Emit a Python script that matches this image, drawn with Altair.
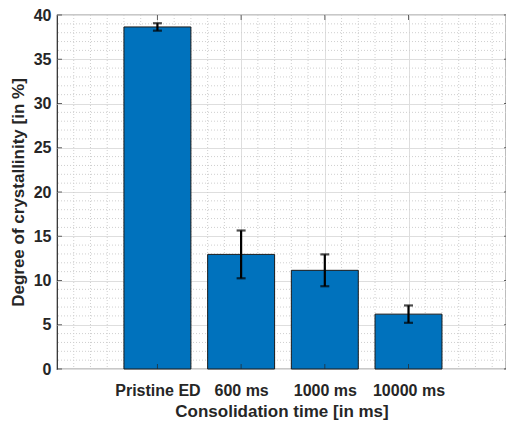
import json
import altair as alt
import pandas as pd

# ---- data ----
categories = ["Pristine ED", "600 ms", "1000 ms", "10000 ms"]
crystallinity = [38.65, 12.95, 11.15, 6.2]
error = [0.42, 2.7, 1.8, 0.98]

y_major = [0, 5, 10, 15, 20, 25, 30, 35, 40]
y_minor = [v for v in range(1, 40) if v % 5 != 0]
x_major = [1, 2, 3, 4]
x_minor = [round(0.2 * k, 1) for k in range(0, 26) if k % 5 != 0 or k in (0, 25)]

W, H = 449, 354
FONT = "Liberation Sans"
INK = "#262626"

pos = [i + 1 for i in range(len(categories))]
df = pd.DataFrame({
    "cat": categories,
    "x": pos,
    "x0": [p - 0.4 for p in pos],
    "x1": [p + 0.4 for p in pos],
    "val": crystallinity,
    "lo": [v - e for v, e in zip(crystallinity, error)],
    "hi": [v + e for v, e in zip(crystallinity, error)],
})

xscale = alt.Scale(domain=[-0.2, 5.165], nice=False, zero=False)
yscale = alt.Scale(domain=[0, 40], nice=False, zero=False)

label_expr = json.dumps(categories) + "[datum.value - 1]"

xaxis = alt.Axis(
    values=x_major, labelExpr=label_expr, title="Consolidation time [in ms]",
    grid=True, gridColor="#dedede", gridWidth=1, ticks=False, domain=False,
    labelFont=FONT, labelFontSize=16, labelFontWeight="bold", labelColor=INK,
    labelPadding=13, labelAngle=0,
    titleFont=FONT, titleFontSize=17, titleFontWeight="bold", titleColor=INK,
    titlePadding=5,
)
yaxis = alt.Axis(
    values=y_major, title="Degree of crystallinity [in %]",
    grid=True, gridColor="#dedede", gridWidth=1, ticks=False, domain=False,
    labelFont=FONT, labelFontSize=16, labelFontWeight="bold", labelColor=INK,
    labelPadding=6,
    titleFont=FONT, titleFontSize=17, titleFontWeight="bold", titleColor=INK,
    titlePadding=6,
)


def X(field):
    return alt.X(field, scale=xscale, axis=xaxis)


def Y(field):
    return alt.Y(field, scale=yscale, axis=yaxis)


minor_y = alt.Chart(pd.DataFrame({"y": y_minor})).mark_rule(
    color="#cfcfcf", strokeDash=[1, 2], strokeWidth=1
).encode(y=Y("y:Q"))

minor_x = alt.Chart(pd.DataFrame({"x": x_minor})).mark_rule(
    color="#cfcfcf", strokeDash=[1, 2], strokeWidth=1
).encode(x=X("x:Q"))

bars = alt.Chart(df).mark_bar(
    color="#0072BD", stroke="#1a1a1a", strokeWidth=1
).encode(
    x=X("x0:Q"),
    x2="x1:Q",
    y=Y("val:Q"),
    y2=alt.datum(0),
)

err = alt.Chart(df).mark_rule(color="black", strokeWidth=2.2).encode(
    x=X("x:Q"), y=Y("lo:Q"), y2="hi:Q",
)
cap_lo = alt.Chart(df).mark_tick(color="black", orient="horizontal", size=9, thickness=2.2).encode(
    x=X("x:Q"), y=Y("lo:Q"),
)
cap_hi = alt.Chart(df).mark_tick(color="black", orient="horizontal", size=9, thickness=2.2).encode(
    x=X("x:Q"), y=Y("hi:Q"),
)

xt = pd.DataFrame({"x": x_major})
yt = pd.DataFrame({"y": y_major})
tick_b = alt.Chart(xt).mark_tick(color=INK, orient="vertical", size=5, thickness=1).encode(
    x=X("x:Q"), y=alt.value(H - 2.5))
tick_t = alt.Chart(xt).mark_tick(color=INK, orient="vertical", size=5, thickness=1).encode(
    x=X("x:Q"), y=alt.value(2.5))
tick_l = alt.Chart(yt).mark_tick(color=INK, orient="horizontal", size=5, thickness=1).encode(
    y=Y("y:Q"), x=alt.value(2.5))
tick_r = alt.Chart(yt).mark_tick(color=INK, orient="horizontal", size=5, thickness=1).encode(
    y=Y("y:Q"), x=alt.value(W + 0.5))

chart = alt.layer(
    minor_y, minor_x, bars, err, cap_lo, cap_hi, tick_b, tick_t, tick_l, tick_r
).properties(
    width=W, height=H,
    autosize=alt.AutoSizeParams(type="none"),
    padding={"left": 57, "top": 15, "right": 0, "bottom": 52},
    background="white",
).configure_view(stroke=INK, strokeWidth=1.2)

chart.save("out.html", embed_options={"renderer": "svg", "actions": False})
